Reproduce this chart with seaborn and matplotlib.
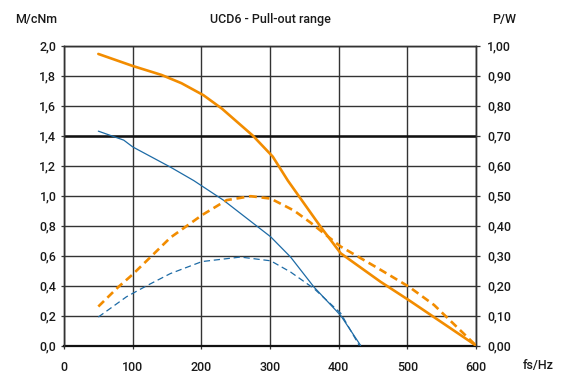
import numpy as np
import pandas as pd
import matplotlib
matplotlib.use("Agg")
import matplotlib.pyplot as plt
import seaborn as sns

# ---- data ----
# Orange motor: pull-out torque M (cNm, left axis)
freq_m_orange = [50, 100, 142, 171, 203, 230, 275, 304, 326, 374, 403, 461, 503, 600]
torque_orange = [1.945, 1.865, 1.805, 1.75, 1.67, 1.58, 1.40, 1.26, 1.10, 0.79, 0.615, 0.425, 0.30, 0.0]
# Orange motor: power P (W, right axis)
freq_p_orange = [50, 79, 99, 126, 155, 201, 237, 272, 301, 335, 359, 378, 403, 457, 503, 539, 600]
power_orange = [0.13, 0.195, 0.235, 0.295, 0.36, 0.435, 0.485, 0.498, 0.49, 0.45, 0.41, 0.375, 0.33, 0.258, 0.195, 0.135, 0.0]
# Blue motor: torque
freq_m_blue = [50, 87, 100, 155, 189, 232, 301, 330, 364, 403, 432]
torque_blue = [1.43, 1.37, 1.325, 1.19, 1.10, 0.97, 0.725, 0.59, 0.39, 0.20, 0.0]
# Blue motor: power
freq_p_blue = [50, 91, 121, 155, 201, 257, 301, 330, 364, 403, 430]
power_blue = [0.095, 0.1625, 0.20, 0.24, 0.28, 0.295, 0.2825, 0.245, 0.19, 0.1075, 0.0]

x_ticks = [0, 100, 200, 300, 400, 500, 600]
left_ticks = [0.0, 0.2, 0.4, 0.6, 0.8, 1.0, 1.2, 1.4, 1.6, 1.8, 2.0]
right_ticks = [0.0, 0.1, 0.2, 0.3, 0.4, 0.5, 0.6, 0.7, 0.8, 0.9, 1.0]

ORANGE = "#F28C00"
BLUE = "#1D6BA6"
GRID = "#333333"
TXT = "#1a1a1a"

sns.set_theme(style="white")
plt.rcParams["font.family"] = ["Roboto", "DejaVu Sans"]
plt.rcParams["font.weight"] = "medium"

fig = plt.figure(figsize=(5.76, 3.75), dpi=100)
ax = fig.add_axes([64 / 576, 1 - 345.5 / 375, (476 - 64) / 576, (345.5 - 45.7) / 375])
ax2 = ax.twinx()

df_mo = pd.DataFrame({"f": freq_m_orange, "v": torque_orange})
df_po = pd.DataFrame({"f": freq_p_orange, "v": power_orange})
df_mb = pd.DataFrame({"f": freq_m_blue, "v": torque_blue})
df_pb = pd.DataFrame({"f": freq_p_blue, "v": power_blue})

sns.lineplot(data=df_mb, x="f", y="v", ax=ax, color=BLUE, lw=0.9, zorder=5)
sns.lineplot(data=df_mo, x="f", y="v", ax=ax, color=ORANGE, lw=1.9, zorder=6)
sns.lineplot(data=df_pb, x="f", y="v", ax=ax2, color=BLUE, lw=0.9, zorder=5,
             linestyle=(0, (5, 3)))
sns.lineplot(data=df_po, x="f", y="v", ax=ax2, color=ORANGE, lw=1.9, zorder=6,
             linestyle=(0, (3, 1.8)))

ax.set_xlim(0, 600)
ax.set_ylim(0, 2.0)
ax2.set_ylim(0, 1.0)
ax.set_xticks(x_ticks)
ax.set_yticks(left_ticks)
ax2.set_yticks(right_ticks)
ax.set_xticklabels([str(t) for t in x_ticks])
ax.set_yticklabels([f"{t:.1f}".replace(".", ",") for t in left_ticks])
ax2.set_yticklabels([f"{t:.2f}".replace(".", ",") for t in right_ticks])
ax.set_xlabel("")
ax.set_ylabel("")
ax2.set_ylabel("")

ax.set_axisbelow(True)
ax.grid(True, color=GRID, lw=1.0)
ax.axhline(1.4, color="#111111", lw=1.8, zorder=2)
ax2.grid(False)

for sp in ["left", "right", "top"]:
    ax.spines[sp].set_color(GRID)
    ax.spines[sp].set_linewidth(1.0)
    ax2.spines[sp].set_color(GRID)
    ax2.spines[sp].set_linewidth(1.0)
ax.spines["bottom"].set_color("#111111")
ax.spines["bottom"].set_linewidth(1.6)
ax2.spines["bottom"].set_visible(False)

ax.tick_params(axis="x", direction="out", length=2.5, width=0.9, color=GRID,
               pad=9, labelsize=9, labelcolor=TXT, bottom=True)
ax.tick_params(axis="y", direction="out", length=2.5, width=0.9, color=GRID,
               pad=3, labelsize=9, labelcolor=TXT, left=True)
ax2.tick_params(axis="y", direction="out", length=3, width=0.9, color=GRID,
                pad=5, labelsize=9, labelcolor=TXT, right=True)

fig.text(36 / 576, 1 - 19 / 375, "M/cNm", ha="center", va="center", fontsize=9, color=TXT)
fig.text(270 / 576, 1 - 19 / 375, "UCD6 - Pull-out range", ha="center", va="center", fontsize=9, color=TXT)
fig.text(504 / 576, 1 - 19 / 375, "P/W", ha="center", va="center", fontsize=9, color=TXT)
fig.text(538 / 576, 1 - 366 / 375, "fs/Hz", ha="center", va="center", fontsize=9, color=TXT)

fig.savefig("out.png", dpi=100)
